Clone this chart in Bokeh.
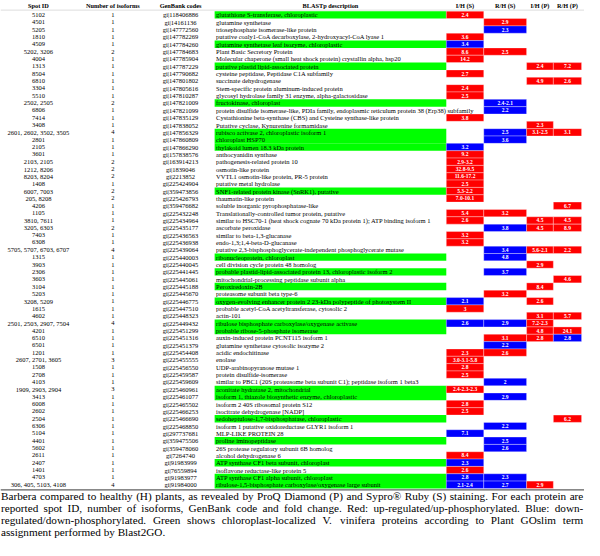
from bokeh.plotting import figure
from bokeh.models import Range1d
from bokeh.core.properties import value
from bokeh.embed import file_html
from bokeh.resources import INLINE

# ---------------- data ----------------
headers = ["Spot ID", "Number of isoforms", "GenBank codes", "BLASTp description",
           "I/H (S)", "R/H (S)", "I/H (P)", "R/H (P)"]

spot_ids = ["5102", "4501", "5205", "1810", "4509", "5202, 3206", "4004", "1313", "8504", "6810",
            "3304", "5510", "2502, 2505", "6806", "7414", "3408", "2601, 2602, 3502, 3505", "2801",
            "2105", "3601", "2103, 2105", "1212, 8206", "8203, 8204", "1408", "6007, 7003", "205, 8208",
            "4206", "1105", "3810, 7611", "3205, 6303", "7403", "6308", "5705, 5707, 6703, 6707", "1315",
            "3903", "2306", "3603", "3104", "5203", "3208, 5209", "1615", "4602",
            "2501, 2503, 2907, 7504", "4201", "6510", "6501", "1201", "2607, 2701, 3605", "1508", "2708",
            "4103", "1909, 2903, 2904", "3413", "6008", "2602", "2504", "6306", "5104", "4401", "5602",
            "2611", "2407", "1401", "4703", "306, 405, 5103, 4108"]

isoforms = ["1", "1", "1", "1", "1", "2", "1", "1", "1", "1",
            "1", "1", "2", "1", "1", "1", "4", "1",
            "1", "1", "2", "2", "2", "1", "2", "2",
            "1", "1", "1", "2", "1", "1", "4", "1",
            "1", "1", "1", "1", "1", "1", "1", "1",
            "4", "1", "1", "1", "1", "3", "1", "1",
            "1", "3", "1", "1", "1", "1", "1", "1", "1", "1",
            "1", "1", "1", "1", "4"]

genbank = ["gi|118406886", "gi|14161136", "gi|147772560", "gi|147782269", "gi|147784260",
           "gi|147784683", "gi|147785904", "gi|147787229", "gi|147790682", "gi|147801802",
           "gi|147805616", "gi|147810287", "gi|147821009", "gi|147821099", "gi|147835129",
           "gi|147838052", "gi|147856329", "gi|147860809", "gi|147866290", "gi|157838576",
           "gi|163914213", "gi|1839046", "gi|2213852", "gi|225424904", "gi|359473856",
           "gi|225426793", "gi|359476682", "gi|225432248", "gi|225434964", "gi|225435177",
           "gi|225436563", "gi|225436938", "gi|225439064", "gi|225440003", "gi|225440045",
           "gi|225441445", "gi|225445061", "gi|225445188", "gi|225445670", "gi|225446775",
           "gi|225447510", "gi|225448323", "gi|225449432", "gi|225451299", "gi|225451316",
           "gi|225451379", "gi|225454408", "gi|225455555", "gi|225456550", "gi|225459587",
           "gi|225459609", "gi|225460961", "gi|225461077", "gi|225465502", "gi|225466253",
           "gi|225466690", "gi|225468850", "gi|297737681", "gi|359475506", "gi|359478060",
           "gi|7264740", "gi|91983999", "gi|76559894", "gi|91983977", "gi|91984000"]

descriptions = [
    "glutathione S-transferase, chloroplastic",
    "glutamine synthetase",
    "triosephosphate isomerase-like protein",
    "putative coaly1-CoA decarboxylase, 2-hydroxyacyl-CoA lyase 1",
    "glutamine synthetase leaf isozyme, chloroplastic",
    "Plant Basic Secretory Protein",
    "Molecular chaperone (small heat shock protein) crystallin alpha,  hsp20",
    "putative plastid lipid-associated protein",
    "cysteine peptidase, Peptidase C1A subfamily",
    "succinate dehydrogenase",
    "Stem-specific protein aluminum-induced protein",
    "glycosyl hydrolase family 31 enzyme, alpha-galactosidase",
    "fructokinase, chloroplast",
    "protein disulfide isomerase-like, PDIa family, endoplasmic reticulum protein 38 (Erp38) subfamily",
    "Cystathionine beta-synthase (CBS) and Cysteine synthase-like protein",
    "Putative cyclase, Kynurenine formamidase",
    "rubisco activase 2, chloroplastic isoform 1",
    "chloroplast HSP70",
    "thylakoid lumen 18.3 kDa protein",
    "anthocyanidin synthase",
    "pathogenesis-related protein 10",
    "osmotin-like protein",
    "VVTL1 osmotin-like protein, PR-5 protein",
    "putative metal hydrolase",
    "SNF1-related protein kinase (SnRK1), putative",
    "thaumatin-like protein",
    "soluble inorganic pyrophosphatase-like",
    "Translationally-controlled tumor protein, putative",
    "similar to HSC70-1 (heat shock cognate 70 kDa protein 1); ATP binding isoform 1",
    "ascorbate peroxidase",
    "similar to beta-1,3-glucanase",
    "endo-1,3;1,4-beta-D-glucanase",
    "putative 2,3-bisphosphoglycerate-independent phosphoglycerate mutase",
    "ribonucleoprotein, chloroplast",
    "cell division cycle protein 48 homolog",
    "probable plastid-lipid-associated protein 13, chloroplastic isoform 2",
    "mitochondrial-processing peptidase subunit alpha",
    "Peroxiredoxin-2B",
    "proteasome subunit beta type-6",
    "oxygen-evolving enhancer protein 2 23-kDa polypeptide of photosystem II",
    "probable acetyl-CoA acetyltransferase, cytosolic 2",
    "actin-101",
    "ribulose bisphosphate carboxylase/oxygenase activase",
    "probable ribose-5-phosphate isomerase",
    "auxin-induced protein PCNT115 isoform 1",
    "glutamine synthetase cytosolic isozyme 2",
    "acidic endochitinase",
    "enolase",
    "UDP-arabinopyranose mutase 1",
    "protein disulfide-isomerase",
    "similar to PBC1 (20S proteasome beta subunit C1); peptidase isoform 1 beta3",
    "aconitate hydratase 2, mitochondrial",
    "isoform 1, thiazole biosynthetic enzyme, chloroplastic",
    "isoform 2 40S ribosomal protein S12",
    "isocitrate dehydrogenase [NADP]",
    "sedoheptulose-1,7-bisphosphatase, chloroplastic",
    "isoform 1 putative oxidoreductase GLYR1 isoform 1",
    "MLP-LIKE PROTEIN 28",
    "proline iminopeptidase",
    "26S protease regulatory subunit 6B homolog",
    "alcohol dehydrogenase 6",
    "ATP synthase CF1 beta subunit, chloroplast",
    "isoflavone reductase-like protein 5",
    "ATP synthase CF1 alpha subunit, chloroplast",
    "ribulose-1,5-bisphosphate carboxylase/oxygenase large subunit",
]

# 1 = chloroplast-localized (green)
chloroplast = [1, 0, 0, 0, 1, 0, 0, 1, 0, 0,
               0, 0, 1, 0, 0, 0, 1, 1, 1, 0,
               0, 0, 0, 0, 1, 0, 0, 0, 0, 0,
               0, 0, 0, 1, 0, 1, 0, 1, 0, 1,
               0, 0, 1, 1, 0, 0, 0, 0, 0, 0,
               0, 1, 1, 0, 0, 1, 0, 0, 1, 0,
               0, 1, 0, 1, 1]

# fold changes; leading "+" = up (red), leading "-" = down (blue)
ih_s = ["+2.4", "", "", "+3.6", "-3.4", "+8.6", "+14.2", "", "+2.7", "",
        "+2.4", "+2.5", "", "", "+3.8", "", "", "",
        "-3.2", "+9.2", "+2.9-3.2", "+32.8-9.5", "+11.6-17.2", "+2.5", "+5.3-2.2", "+7.0-10.1",
        "", "+5.4", "+2.6", "", "+3.2", "+3.2", "", "",
        "", "", "", "", "", "-2.1", "+3", "",
        "-2.6", "", "", "", "+2.3", "+3.0-3.1-5.8", "+2.8", "+2.5",
        "", "+2.4-2.3-2.3", "", "+2.8", "+2.5", "", "", "-7.1", "", "",
        "+8.4", "-2.3", "+2.6", "-2.8", "-2.1-2.4"]
rh_s = ["", "+2.9", "-2.3", "", "", "+2.5", "", "", "", "",
        "", "", "-2.4-2.1", "-2.2", "", "", "-2.5", "-3.6",
        "", "", "", "", "", "", "", "",
        "", "+3.2", "", "-3.8", "", "", "-3.4", "-4.8",
        "", "-3.7", "", "", "+3.2", "", "", "",
        "-2.9", "", "+3.1", "-2.2", "+2.6", "", "", "",
        "-2", "", "-2.9", "", "", "", "-2.2", "", "-2.5", "-2.6",
        "", "", "", "-2.3", "-2.7"]
ih_p = ["", "", "", "", "", "", "", "+2.4", "", "+4.9",
        "", "", "", "", "", "+2.3", "+3.1-2.5", "",
        "", "", "", "", "", "", "", "",
        "", "", "+4.5", "+4.5", "", "", "+5.6-2.1", "",
        "+2.9", "", "", "+8.4", "", "+2.6", "", "+3.1",
        "+7.2-2.3", "+4.8", "+2.8", "", "", "", "", "",
        "", "", "", "", "", "", "", "", "", "",
        "", "", "", "", "+2.9"]
rh_p = ["", "", "", "", "", "", "", "+7.2", "", "+2.6",
        "", "", "", "", "", "", "+3.1", "",
        "", "", "", "", "", "", "", "",
        "+6.7", "", "+4.5", "+8.9", "", "", "+2.2", "",
        "", "", "+4.6", "", "", "", "", "+5.7",
        "", "+24.1", "-2.8", "", "", "", "", "",
        "", "", "", "", "", "+6.2", "", "", "", "",
        "", "", "", "", ""]

caption_lines = [
    "Barbera compared to healthy (H) plants, as revealed by ProQ Diamond (P) and Sypro\u00ae Ruby (S) staining. For each protein are",
    "reported spot ID, number of isoforms, GenBank code and fold change. Red: up-regulated/up-phosphorylated. Blue: down-",
    "regulated/down-phosphorylated. Green shows chloroplast-localized V. vinifera proteins according to Plant GOslim term",
    "assignment performed by Blast2GO.",
]

# ---------------- layout ----------------
REF_W, REF_H = 600, 556
W, H = 584, 540
SX = W / REF_W
FONT = value("Liberation Serif")

RED, BLUE, GREEN = "#FF0000", "#0000FF", "#00FF00"
ROW0, PITCH = 14.8, 7.56
HEADER_Y = 5.6

col_x = [39, 115.5, 185, 339, 477.25, 518.5, 554.25, 582.5]
val_cols = [(458, 496.5), (496.5, 540.5), (540.5, 568), (568, 597)]
DESC_L, DESC_R = 220, 458

p = figure(width=W, height=H, x_range=Range1d(0, REF_W), y_range=Range1d(REF_H, 0),
           output_backend="svg", toolbar_location=None, min_border=0,
           x_axis_location=None, y_axis_location=None)
p.grid.visible = False
p.outline_line_color = None
p.background_fill_color = "white"

n = len(spot_ids)
ys = [ROW0 + PITCH * i for i in range(n)]

# green chloroplast bars
gy = [ys[i] for i in range(n) if chloroplast[i]]
p.rect(x=[(DESC_L + DESC_R) / 2] * len(gy), y=gy, width=DESC_R - DESC_L, height=PITCH,
       fill_color=GREEN, line_color=None)

# fold-change cells
cx, cy, cw, cc, ct = [], [], [], [], []
for series, (l, r) in zip([ih_s, rh_s, ih_p, rh_p], val_cols):
    for i, v in enumerate(series):
        if not v:
            continue
        cx.append((l + r) / 2)
        cy.append(ys[i])
        cw.append(r - l)
        cc.append(RED if v[0] == "+" else BLUE)
        ct.append(v[1:])
p.rect(x=cx, y=cy, width=cw, height=PITCH, fill_color=cc, line_color="white",
       line_alpha=0.45, line_width=0.7)
p.text(x=cx, y=cy, text=ct, text_color="white", text_font=FONT, text_font_style="bold",
       text_font_size="5.5px", text_align="center", text_baseline="middle")

# header
p.text(x=col_x, y=[HEADER_Y] * len(headers), text=headers, text_font=FONT,
       text_font_style="bold", text_font_size="6.3px", text_align="center",
       text_baseline="middle", text_color="black")
p.segment(x0=[0], y0=[9.9], x1=[600], y1=[9.9], line_color="#c8c8c8", line_width=0.6)

# body columns
body_fs = "6.5px"
for xs, txt in [(col_x[0], spot_ids), (col_x[1], isoforms), (col_x[2], genbank)]:
    p.text(x=[xs] * n, y=ys, text=txt, text_font=FONT, text_font_size=body_fs,
           text_align="center", text_baseline="middle", text_color="black")
p.text(x=[DESC_L + 1.5] * n, y=ys, text=descriptions, text_font=FONT, text_font_size=body_fs,
       text_align="left", text_baseline="middle", text_color="black")

# separator above caption
p.segment(x0=[0], y0=[503.8], x1=[600], y1=[503.8], line_color="#606060", line_width=1.2)

# caption, justified using Times metrics
TW = {' ': 250, '!': 333, '"': 408, '#': 500, '%': 833, '&': 778, "'": 333, '(': 333, ')': 333,
      '*': 500, '+': 564, ',': 250, '-': 333, '.': 250, '/': 278, ':': 278, ';': 278, '?': 444,
      '[': 333, ']': 333, '\u00ae': 760}
for ch in "0123456789":
    TW[ch] = 500
for ch, w in zip("ABCDEFGHIJKLMNOPQRSTUVWXYZ",
                 [722, 667, 667, 722, 611, 556, 722, 722, 333, 389, 722, 611, 889, 722, 722, 556,
                  722, 667, 556, 611, 722, 722, 944, 722, 722, 611]):
    TW[ch] = w
for ch, w in zip("abcdefghijklmnopqrstuvwxyz",
                 [444, 500, 444, 500, 444, 333, 500, 500, 278, 278, 500, 278, 778, 500, 500, 500,
                  500, 333, 389, 278, 500, 500, 722, 500, 500, 444]):
    TW[ch] = w


def tw(s, size):
    return sum(TW.get(c, 500) for c in s) / 1000.0 * size


CAP_PX = 11.2                # screen font size
CAP_FS = CAP_PX / SX         # same size in data units
CAP_L, CAP_R = 0.5, 598.8
cap_y0, cap_pitch = 510.0, 12.3
wx, wy, wt = [], [], []
for li, line in enumerate(caption_lines):
    words = line.split(" ")
    y = cap_y0 + li * cap_pitch
    widths = [tw(w_, CAP_FS) for w_ in words]
    if li < len(caption_lines) - 1 and len(words) > 1:
        gap = (CAP_R - CAP_L - sum(widths)) / (len(words) - 1)
    else:
        gap = tw(" ", CAP_FS)
    x = CAP_L
    for w_, ww in zip(words, widths):
        wx.append(x)
        wy.append(y)
        wt.append(w_)
        x += ww + gap
p.text(x=wx, y=wy, text=wt, text_font=FONT, text_font_size=f"{CAP_PX}px", text_align="left",
       text_baseline="middle", text_color="black")

open("out.html", "w").write(file_html(p, INLINE))
